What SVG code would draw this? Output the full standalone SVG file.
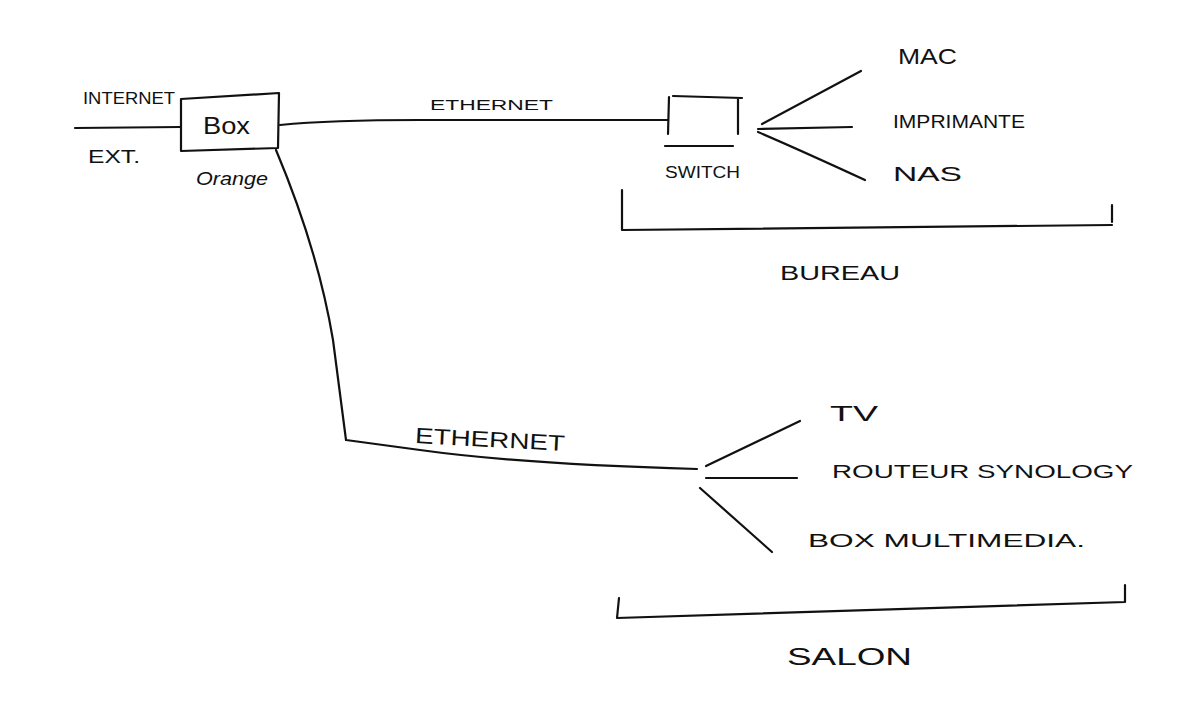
<svg xmlns="http://www.w3.org/2000/svg" width="1187" height="718" viewBox="0 0 1187 718">
<style>
.ln{fill:none;stroke:#111;stroke-width:2.2;stroke-linecap:round;stroke-linejoin:round}
.t{font-family:"Liberation Sans",Arial,sans-serif;fill:#111;font-weight:normal}
</style>
<rect width="1187" height="718" fill="#fff"/>
<g id="connectors">
<path class="ln" d="M75,128 L181,127"/>
<path class="ln" d="M280,125 Q330,120 420,120 L668,120"/>
<path class="ln" d="M276,150 Q318,250 333,340 Q342,410 346,440 L420,450 Q520,464 697,469"/>
<path class="ln" d="M762,124 L861,71"/>
<path class="ln" d="M758,129 L852,127"/>
<path class="ln" d="M758,132 Q800,150 865,180"/>
<path class="ln" d="M706,466 L800,421"/>
<path class="ln" d="M706,478 L797,478"/>
<path class="ln" d="M700,488 L772,552"/>
</g>
<g id="box">
<path class="ln" d="M181,99 L279,93 L278,148 L181,151 Z"/>
<text class="t" x="203" y="134" font-size="23" textLength="47" lengthAdjust="spacingAndGlyphs">Box</text>
<text class="t" x="196" y="185" font-size="18" font-style="italic" textLength="72" lengthAdjust="spacingAndGlyphs">Orange</text>
</g>
<g id="internet">
<text class="t" x="83" y="104" font-size="16" textLength="92" lengthAdjust="spacingAndGlyphs">INTERNET</text>
<text class="t" x="88" y="163" font-size="18" textLength="52" lengthAdjust="spacingAndGlyphs">EXT.</text>
</g>
<g id="ethernet-top">
<text class="t" x="430" y="110" font-size="15" textLength="123" lengthAdjust="spacingAndGlyphs">ETHERNET</text>
</g>
<g id="switch">
<path class="ln" d="M669,97 L668,134 M673,96 L742,98 M738,98 L738,134 M665,146 L733,146"/>
<text class="t" x="665" y="178" font-size="16" textLength="75" lengthAdjust="spacingAndGlyphs">SWITCH</text>
</g>
<g id="mac"><text class="t" x="898" y="64" font-size="22" textLength="59" lengthAdjust="spacingAndGlyphs">MAC</text></g>
<g id="imprimante"><text class="t" x="893" y="128" font-size="18" textLength="132" lengthAdjust="spacingAndGlyphs">IMPRIMANTE</text></g>
<g id="nas"><text class="t" x="893" y="181" font-size="20" textLength="69" lengthAdjust="spacingAndGlyphs">NAS</text></g>
<g id="bureau">
<path class="ln" d="M622,190 L622,230 L1112,225 M1112,205 L1112,222"/>
<text class="t" x="780" y="280" font-size="20" textLength="120" lengthAdjust="spacingAndGlyphs">BUREAU</text>
</g>
<g id="ethernet-bottom">
<text class="t" x="415" y="447" font-size="22" textLength="150" lengthAdjust="spacingAndGlyphs" transform="rotate(3 490 440)">ETHERNET</text>
</g>
<g id="tv"><text class="t" x="830" y="421" font-size="22" textLength="48" lengthAdjust="spacingAndGlyphs">TV</text></g>
<g id="routeur"><text class="t" x="832" y="478" font-size="19" textLength="301" lengthAdjust="spacingAndGlyphs">ROUTEUR   SYNOLOGY</text></g>
<g id="boxmm"><text class="t" x="808" y="547" font-size="19" textLength="277" lengthAdjust="spacingAndGlyphs">BOX  MULTIMEDIA.</text></g>
<g id="salon">
<path class="ln" d="M619,598 L617,618 L1125,602 M1125,585 L1125,602"/>
<text class="t" x="787" y="665" font-size="24" textLength="125" lengthAdjust="spacingAndGlyphs">SALON</text>
</g>
</svg>
